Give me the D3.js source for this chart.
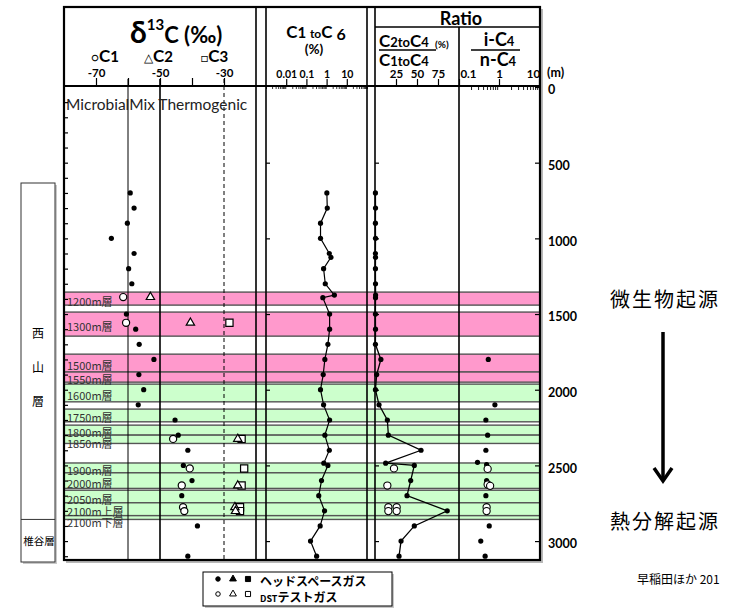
<!DOCTYPE html>
<html><head><meta charset="utf-8">
<script src="https://cdn.jsdelivr.net/npm/d3@7"></script>
<style>body{margin:0;background:#fff}</style>
</head><body>
<svg id="c" width="740" height="611"></svg>
<script>
// ---- depth axis (m)
const depthTicks = [0, 500, 1000, 1500, 2000, 2500, 3000];

// ---- formation intervals (depth m)
const bandNames  = ["1200m層","1300m層","1500m層","1550m層","1600m層","1750m層","1800m層","1850m層","1900m層","2000m層","2050m層","2100m上層","2100m下層"];
const bandTop    = [1355, 1487, 1765, 1883, 1963, 2128, 2234, 2300, 2484, 2549, 2664, 2747, 2832];
const bandBottom = [1441, 1646, 1883, 1950, 2080, 2212, 2300, 2355, 2549, 2652, 2747, 2832, 2857];
const bandOrigin = ["bio","bio","bio","bio","thermo","thermo","thermo","thermo","thermo","thermo","thermo","thermo","thermo"];

// ---- headspace gas, δ13C of C1 (‰)
const hsDepth = [700, 800, 900, 1000, 1100, 1200, 1300, 1500, 1600, 1700, 1800, 1900, 2000, 2100, 2200, 2300, 2400, 2500, 2600, 2700, 2900, 3100];
const hsC1    = [-59.3, -58.1, -60.2, -65.2, -58.1, -59.8, -58.8, -60.5, -57.6, -56.5, -51.9, -56.6, -55.1, -56.8, -45.3, -44.3, -41.3, -42.7, -40.0, -43.2, -38.3, -41.3];

// ---- DST gas, δ13C of C1, C2, C3 (‰)
const dstDepth = [1388, 1558, 2325, 2520, 2633, 2776, 2802];
const dstC1    = [-61.5, -60.6, -45.9, -40.7, -43.2, -42.8, -42.4];
const dstC2    = [-53.0, -40.5, -25.7, null, -25.7, -26.6, -26.4];
const dstC3    = [null, -28.3, -24.5, -23.7, -24.5, -25.0, -25.0];

// ---- headspace gas: C1–C6 content (%) and wetness ratio (%)
const gasDepth = [700, 800, 900, 1000, 1100, 1125, 1200, 1300, 1375, 1392, 1500, 1600, 1700, 1800, 1900, 2000, 2100, 2200, 2300, 2400, 2485, 2500, 2600, 2700, 2800, 2900, 3000, 3100];
const c1c6     = [1.03, 1.08, 0.50, 0.50, 1.36, 1.64, 0.71, 0.86, 2.43, 0.65, 1.41, 1.41, 1.16, 0.82, 0.68, 0.50, 0.71, 1.41, 0.82, 1.36, 0.73, 1.16, 0.56, 0.41, 0.79, 0.48, 0.16, 0.32];
const wetness  = [0.5, 0.6, 0.5, 0.6, 0.5, 0.6, 0.5, 0.6, 0.7, 0.6, 0.5, 0.6, 0.5, 7.0, 2.0, 0.5, 4.8, 14.7, 15.9, 54.8, 12.7, 46.8, 42.5, 38.1, 86.0, 46.8, 31.0, 28.6];

// ---- DST gas wetness ratio (%)
const dstWetDepth = [2520, 2633, 2776, 2776, 2802, 2802];
const dstWet      = [22.6, 14.7, 15.9, 25.8, 15.9, 25.8];

// ---- i-C4 / n-C4
const icDepth = [1800, 2100, 2200, 2300, 2400, 2480, 2495, 2600, 2700, 2900, 3000, 3100];
const icRatio = [0.54, 0.79, 0.47, 0.52, 0.47, 0.29, 0.49, 0.49, 0.47, 0.57, 0.35, 0.45];
const dstIcDepth = [2523, 2626, 2635, 2776, 2802];
const dstIcRatio = [0.52, 0.52, 0.60, 0.49, 0.49];

// ---- axis tick values
const d13Ticks   = [-70, -60, -50, -40, -30];
const d13Labels  = [-70, -50, -30];
const c16Ticks   = [0.01, 0.1, 1, 10];
const wetTicks   = [25, 50, 75];
const icTicks    = [0.1, 1, 10];

const LAT = "Lato, 'Open Sans', sans-serif";
const JP  = "'Noto Sans CJK JP', 'Noto Sans', sans-serif";

const svg = d3.select("#c");

// scales
const y   = d3.scaleLinear().domain([0, 3125]).range([87, 560]);
const xD  = d3.scaleLinear().domain([-80, -20]).range([64, 256]);
const xC  = d3.scaleLog().domain([0.001, 100]).range([266, 367]);
const xW  = d3.scaleLinear().domain([0, 100]).range([375, 459]);
const xI  = d3.scaleLog().domain([0.1, 10]).range([459, 539]);

const L = 64, R = 540, TOP = 7, HB = 86, BOT = 560;

// drop shadow of the frame
svg.append("rect").attr("x", L + 2).attr("y", TOP + 2).attr("width", R - L + 1).attr("height", BOT - TOP + 1).attr("fill", "#b8b8b8");
svg.append("rect").attr("x", L).attr("y", TOP).attr("width", R - L).attr("height", BOT - TOP).attr("fill", "#fff");

// formation bands
const bandG = svg.append("g");
bandNames.forEach((n, i) => {
  const y0 = y(bandTop[i]), y1 = y(bandBottom[i]);
  bandG.append("rect").attr("x", L).attr("y", y0).attr("width", R - L).attr("height", y1 - y0)
    .attr("fill", bandOrigin[i] === "bio" ? "#ff99cc" : "#ccffcc")
    .attr("stroke", "#555").attr("stroke-width", 1.4);
});
// labels sit near the band centre, pushed down when neighbouring bands are thin
let prevLabelY = -Infinity;
bandNames.forEach((n, i) => {
  const y0 = y(bandTop[i]), y1 = y(bandBottom[i]);
  const ly = Math.max((y0 + y1) / 2 + 2, prevLabelY + 11);
  prevLabelY = ly;
  bandG.append("text").attr("x", L + 3).attr("y", ly)
    .attr("dominant-baseline", "central").attr("font-family", JP).attr("font-size", 11)
    .attr("fill", "#333").text(n);
});

// reference lines in the δ13C panel
const refG = svg.append("g");
refG.append("line").attr("x1", xD(-60)).attr("x2", xD(-60)).attr("y1", 79).attr("y2", BOT).attr("stroke", "#000").attr("stroke-width", 1);
refG.append("line").attr("x1", xD(-50)).attr("x2", xD(-50)).attr("y1", 79).attr("y2", BOT).attr("stroke", "#000").attr("stroke-width", 1.6);
refG.append("line").attr("x1", xD(-30)).attr("x2", xD(-30)).attr("y1", 79).attr("y2", BOT).attr("stroke", "#000").attr("stroke-width", 1).attr("stroke-dasharray", "4,3");

// panel frames
const fr = svg.append("g").attr("stroke", "#000").attr("fill", "none");
fr.append("rect").attr("x", L).attr("y", TOP).attr("width", R - L).attr("height", BOT - TOP).attr("stroke-width", 2.2);
fr.append("line").attr("x1", L).attr("x2", R).attr("y1", HB).attr("y2", HB).attr("stroke-width", 2);
[256, 266, 367, 375].forEach(x => fr.append("line").attr("x1", x).attr("x2", x).attr("y1", TOP).attr("y2", BOT).attr("stroke-width", 1.6));
fr.append("line").attr("x1", 459).attr("x2", 459).attr("y1", 27).attr("y2", BOT).attr("stroke-width", 1.6);
fr.append("line").attr("x1", 375).attr("x2", R).attr("y1", 27).attr("y2", 27).attr("stroke-width", 1.6);

// zone captions
svg.append("text").attr("x", 66).attr("y", 110).attr("font-family", LAT).attr("font-size", 15.5).attr("fill", "#222")
  .text("MicrobialMix Thermogenic");

// ---- axes along the header bottom
function styleAxis(g, fs) {
  g.select(".domain").remove();
  g.selectAll(".tick line").attr("stroke", "#000").attr("stroke-width", 1.2);
  g.selectAll(".tick text").attr("font-family", LAT).attr("font-weight", "bold").attr("font-size", fs).attr("fill", "#000");
}
const aD = svg.append("g").attr("transform", `translate(0,${HB})`)
  .call(d3.axisTop(xD).tickValues(d13Ticks).tickSize(8).tickPadding(1).tickFormat(d => d13Labels.includes(d) ? d : ""));
styleAxis(aD, 11.5);

const aC = svg.append("g").attr("transform", `translate(0,${HB})`)
  .call(d3.axisTop(xC).tickValues(c16Ticks).tickSize(7).tickPadding(1).tickFormat(d => String(d)));
styleAxis(aC, 10.5);
const c16Minor = xC.ticks().filter(v => !c16Ticks.includes(v));
const aCm = svg.append("g").attr("transform", `translate(0,${HB})`)
  .call(d3.axisBottom(xC).tickValues(c16Minor).tickSize(3).tickFormat(""));
styleAxis(aCm, 8);
aCm.selectAll(".tick line").attr("stroke-width", 0.8);

const aW = svg.append("g").attr("transform", `translate(0,${HB})`)
  .call(d3.axisTop(xW).tickValues(wetTicks).tickSize(7).tickPadding(1));
styleAxis(aW, 11.5);

const aI = svg.append("g").attr("transform", `translate(0,${HB})`)
  .call(d3.axisTop(xI).tickValues(icTicks).tickSize(7).tickPadding(1).tickFormat(d => String(d)));
styleAxis(aI, 11.5);
aI.selectAll(".tick text").attr("dx", d => d === 0.1 ? 9 : d === 10 ? -6 : 0);
const icMinor = xI.ticks().filter(v => !icTicks.includes(v));
const aIm = svg.append("g").attr("transform", `translate(0,${HB})`)
  .call(d3.axisBottom(xI).tickValues(icMinor).tickSize(4).tickFormat(""));
styleAxis(aIm, 8);
aIm.selectAll(".tick line").attr("stroke-width", 0.9);

// ---- depth axes
const aY = svg.append("g").attr("transform", `translate(${R},0)`)
  .call(d3.axisLeft(y).tickValues(depthTicks).tickSize(5).tickFormat(""));
styleAxis(aY, 12);
const aYl = svg.append("g").attr("transform", `translate(${R},0)`)
  .call(d3.axisRight(y).tickValues(depthTicks).tickSize(0).tickPadding(8).tickFormat(d3.format("d")));
styleAxis(aYl, 12.5);
aYl.selectAll(".tick text").attr("dy", "0.55em").attr("text-anchor", "start");
const aLeft = svg.append("g").attr("transform", `translate(${L},0)`)
  .call(d3.axisRight(y).tickValues(d3.range(100, 3101, 100)).tickSize(4).tickFormat(""));
styleAxis(aLeft, 8);
const aMid = svg.append("g").attr("transform", `translate(266,0)`)
  .call(d3.axisRight(y).tickValues(depthTicks.slice(1)).tickSize(4).tickFormat(""));
styleAxis(aMid, 8);
const aRat = svg.append("g").attr("transform", `translate(375,0)`)
  .call(d3.axisRight(y).tickValues(depthTicks.slice(1)).tickSize(4).tickFormat(""));
styleAxis(aRat, 8);
svg.append("text").attr("x", 547).attr("y", 77).attr("font-family", LAT).attr("font-weight", "bold").attr("font-size", 12.5).text("(m)");

// ---- marks
const sym = (type, size) => d3.symbol().type(type).size(size)();
const marks = svg.append("g");

// δ13C headspace C1
marks.selectAll(".hs").data(hsDepth).join("circle")
  .attr("cx", (d, i) => xD(hsC1[i])).attr("cy", d => y(d)).attr("r", 2.6).attr("fill", "#000");

// δ13C DST C1 / C2 / C3
function openMarks(vals, type, size) {
  dstDepth.forEach((d, i) => {
    if (vals[i] == null) return;
    marks.append("path").attr("d", sym(type, size))
      .attr("transform", `translate(${xD(vals[i])},${y(d)})`)
      .attr("fill", "#fff").attr("stroke", "#000").attr("stroke-width", 1.2);
  });
}
openMarks(dstC3, d3.symbolSquare, 52);
openMarks(dstC2, d3.symbolTriangle, 30);
openMarks(dstC1, d3.symbolCircle, 40);

// C1–C6 profile
marks.append("path").datum(gasDepth)
  .attr("d", d3.line().x((d, i) => xC(c1c6[i])).y(d => y(d)))
  .attr("fill", "none").attr("stroke", "#000").attr("stroke-width", 1.2);
marks.selectAll(".c16").data(gasDepth).join("circle")
  .attr("cx", (d, i) => xC(c1c6[i])).attr("cy", d => y(d)).attr("r", 2.6).attr("fill", "#000");

// wetness profile
marks.append("path").datum(gasDepth)
  .attr("d", d3.line().x((d, i) => xW(wetness[i])).y(d => y(d)))
  .attr("fill", "none").attr("stroke", "#000").attr("stroke-width", 1.3);
marks.selectAll(".wet").data(gasDepth).join("circle")
  .attr("cx", (d, i) => xW(wetness[i])).attr("cy", d => y(d)).attr("r", 2.6).attr("fill", "#000");
marks.selectAll(".dwet").data(dstWetDepth).join("circle")
  .attr("cx", (d, i) => xW(dstWet[i])).attr("cy", d => y(d)).attr("r", 3.6)
  .attr("fill", "#fff").attr("stroke", "#000").attr("stroke-width", 1.1);

// i-C4 / n-C4
marks.selectAll(".ic").data(icDepth).join("circle")
  .attr("cx", (d, i) => xI(icRatio[i])).attr("cy", d => y(d)).attr("r", 2.6).attr("fill", "#000");
marks.selectAll(".dic").data(dstIcDepth).join("circle")
  .attr("cx", (d, i) => xI(dstIcRatio[i])).attr("cy", d => y(d)).attr("r", 3.6)
  .attr("fill", "#fff").attr("stroke", "#000").attr("stroke-width", 1.1);

// ---- headers
const hd = svg.append("g").attr("font-family", LAT).attr("font-weight", "bold").attr("fill", "#000");
const t1 = hd.append("text").attr("x", 130).attr("y", 43);
t1.append("tspan").attr("font-size", 30).text("δ");
t1.append("tspan").attr("font-size", 15).attr("dy", -13).text("13");
t1.append("tspan").attr("font-size", 22).attr("dy", 13).text("C (‰)");

function compLabel(x, sym, num) {
  const t = hd.append("text").attr("x", x).attr("y", 62);
  t.append("tspan").attr("font-size", 12).attr("font-weight", "normal").text(sym);
  t.append("tspan").attr("font-size", 17).text("C");
  t.append("tspan").attr("font-size", 15).text(num);
}
compLabel(91, "○", "1");
compLabel(144, "△", "2");
compLabel(201, "□", "3");

const t2 = hd.append("text").attr("x", 316).attr("y", 38).attr("text-anchor", "middle");
t2.append("tspan").attr("font-size", 17).text("C");
t2.append("tspan").attr("font-size", 15).text("1 ");
t2.append("tspan").attr("font-size", 12).text("to");
t2.append("tspan").attr("font-size", 17).text("C");
t2.append("tspan").attr("font-size", 16).attr("dy", 2).text(" 6");
hd.append("text").attr("x", 314).attr("y", 54).attr("text-anchor", "middle").attr("font-size", 13.5).text("(%)");

hd.append("text").attr("x", 461).attr("y", 25).attr("text-anchor", "middle").attr("font-size", 18).text("Ratio");

function ratioTerm(x, yy, a, b) {
  const t = hd.append("text").attr("x", x).attr("y", yy);
  t.append("tspan").attr("font-size", 17).text("C");
  t.append("tspan").attr("font-size", 13).text(a);
  t.append("tspan").attr("font-size", 13).text("to");
  t.append("tspan").attr("font-size", 17).text("C");
  t.append("tspan").attr("font-size", 13).text(b);
  return t;
}
ratioTerm(379, 47, "2", "4");
hd.append("text").attr("x", 435).attr("y", 48).attr("font-size", 10).text("(%)");
hd.append("line").attr("x1", 379).attr("x2", 436).attr("y1", 50).attr("y2", 50).attr("stroke", "#000").attr("stroke-width", 1.3);
ratioTerm(379, 66, "1", "4");

const t3 = hd.append("text").attr("x", 499).attr("y", 46).attr("text-anchor", "middle");
t3.append("tspan").attr("font-size", 18).text("i-C");
t3.append("tspan").attr("font-size", 13).text("4");
hd.append("line").attr("x1", 471).attr("x2", 520).attr("y1", 50).attr("y2", 50).attr("stroke", "#000").attr("stroke-width", 1.3);
const t4 = hd.append("text").attr("x", 498).attr("y", 66).attr("text-anchor", "middle");
t4.append("tspan").attr("font-size", 18).text("n-C");
t4.append("tspan").attr("font-size", 13).text("4");

// ---- stratigraphic column
const col = svg.append("g");
const colTop = 183, colSplit = y(2857), colBot = 562;
col.append("rect").attr("x", 23).attr("y", colTop + 2).attr("width", 34).attr("height", colBot - colTop).attr("fill", "#c8c8c8");
col.append("rect").attr("x", 21).attr("y", colTop).attr("width", 34).attr("height", colBot - colTop).attr("fill", "#fff").attr("stroke", "#333").attr("stroke-width", 1);
col.append("line").attr("x1", 21).attr("x2", 55).attr("y1", colSplit).attr("y2", colSplit).attr("stroke", "#333");
["西", "山", "層"].forEach((c, i) => col.append("text").attr("x", 38).attr("y", 338 + i * 34)
  .attr("text-anchor", "middle").attr("font-family", JP).attr("font-size", 12).text(c));
col.append("text").attr("x", 39).attr("y", (colSplit + colBot) / 2 + 4).attr("text-anchor", "middle")
  .attr("font-family", JP).attr("font-size", 10.5).text("椎谷層");

// ---- origin trend annotation
svg.append("text").attr("x", 665).attr("y", 307).attr("text-anchor", "middle").attr("font-family", JP).attr("font-size", 20).attr("letter-spacing", 2).text("微生物起源");
svg.append("line").attr("x1", 663).attr("x2", 663).attr("y1", 332).attr("y2", 480).attr("stroke", "#000").attr("stroke-width", 3.5);
svg.append("path").attr("d", "M654,468 L663,481 L672,468").attr("fill", "none").attr("stroke", "#000").attr("stroke-width", 3.5);
svg.append("text").attr("x", 665).attr("y", 529).attr("text-anchor", "middle").attr("font-family", JP).attr("font-size", 20).attr("letter-spacing", 2).text("熱分解起源");
svg.append("text").attr("x", 637).attr("y", 584).attr("font-family", JP).attr("font-size", 12).text("早稲田ほか 201");

// ---- legend
const lg = svg.append("g");
lg.append("rect").attr("x", 205).attr("y", 574).attr("width", 189).attr("height", 34).attr("fill", "#c8c8c8");
lg.append("rect").attr("x", 203).attr("y", 572).attr("width", 189).attr("height", 34).attr("fill", "#fff").attr("stroke", "#000").attr("stroke-width", 1);
const legRows = [
  {y: 583, fill: "#000"},
  {y: 598, fill: "#fff"}
];
legRows.forEach(r => {
  [[218, d3.symbolCircle, 16], [233, d3.symbolTriangle, 20], [248, d3.symbolSquare, 26]].forEach(([x, t, s]) =>
    lg.append("path").attr("d", sym(t, s)).attr("transform", `translate(${x},${r.y - 4})`)
      .attr("fill", r.fill).attr("stroke", "#000").attr("stroke-width", 1));
});
lg.append("text").attr("x", 260).attr("y", 586).attr("font-family", JP).attr("font-weight", "bold").attr("font-size", 12).text("ヘッドスペースガス");
const lt = lg.append("text").attr("x", 260).attr("y", 602).attr("font-family", JP).attr("font-weight", "bold");
lt.append("tspan").attr("font-size", 9).text("DST");
lt.append("tspan").attr("font-size", 12).text("テストガス");
</script>
</body></html>
